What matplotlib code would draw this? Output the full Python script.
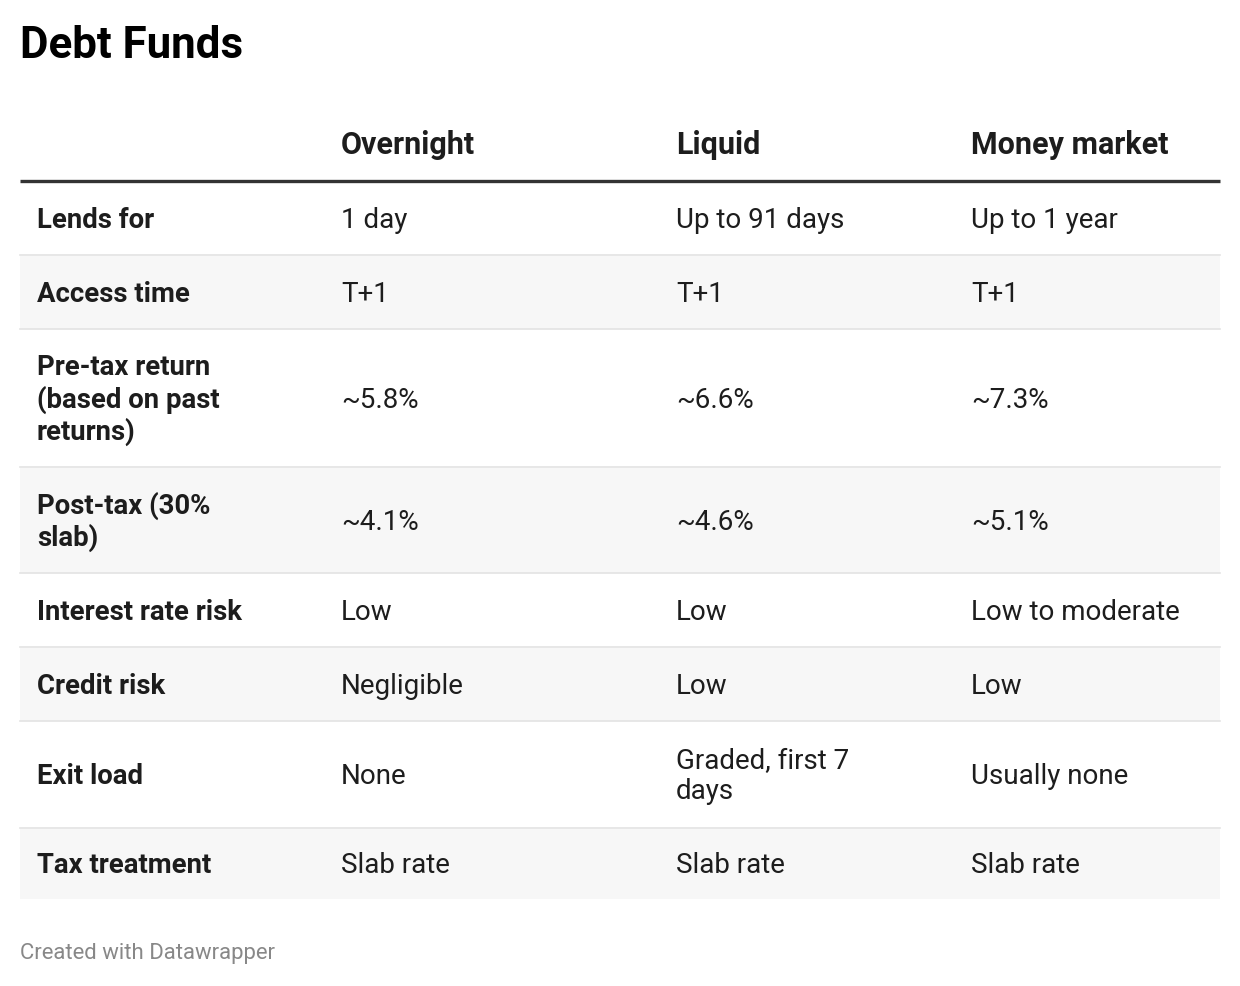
import matplotlib
matplotlib.use("Agg")
import matplotlib.pyplot as plt
from matplotlib.patches import Rectangle

plt.rcParams['font.family'] = ['Roboto', 'DejaVu Sans']

title = "Debt Funds"
columns = ["Overnight", "Liquid", "Money market"]
row_labels = ["Lends for", "Access time", "Pre-tax return\n(based on past\nreturns)",
              "Post-tax (30%\nslab)", "Interest rate risk", "Credit risk",
              "Exit load", "Tax treatment"]
overnight = ["1 day", "T+1", "~5.8%", "~4.1%", "Low", "Negligible", "None", "Slab rate"]
liquid = ["Up to 91 days", "T+1", "~6.6%", "~4.6%", "Low", "Low", "Graded, first 7\ndays", "Slab rate"]
money_market = ["Up to 1 year", "T+1", "~7.3%", "~5.1%", "Low to moderate", "Low", "Usually none", "Slab rate"]
footer = "Created with Datawrapper"

# layout (pixels)
W, H = 1240, 986
row_edges = [181, 255, 329, 467, 573, 647, 721, 828, 899]
col_x = [37, 341, 676, 971]
table_left, table_right = 20, 1220

fig = plt.figure(figsize=(W / 100, H / 100), dpi=100)
ax = fig.add_axes([0, 0, 1, 1])
ax.set_xlim(0, W)
ax.set_ylim(H, 0)
ax.axis('off')

text_color = "#1d1d1d"
fs_body = 20.0
fs_label = 19.8
fs_head = 22.0

ax.text(20, 46, title, fontsize=31.6, fontweight='bold', color="#000000", va='center', ha='left')

for x, c in zip(col_x[1:], columns):
    ax.text(x, 145, c, fontsize=fs_head, fontweight='bold', color=text_color, va='center', ha='left')

ax.plot([table_left, table_right], [180.5, 180.5], color="#333333", lw=2.4, solid_capstyle='butt')

cols = [overnight, liquid, money_market]
for i, lab in enumerate(row_labels):
    top, bot = row_edges[i], row_edges[i + 1]
    if i % 2 == 1:
        ax.add_patch(Rectangle((table_left, top + 1), table_right - table_left, bot - top - 1,
                               facecolor="#f7f7f7", edgecolor='none', zorder=0))
    if i < len(row_labels) - 1:
        ax.plot([table_left, table_right], [bot, bot], color="#e3e3e3", lw=1.2, zorder=1)
    yc = (top + bot) / 2 + 2
    ax.text(col_x[0], yc, lab, fontsize=fs_label, fontweight='bold', color=text_color,
            va='center', ha='left', linespacing=1.18)
    for x, col in zip(col_x[1:], cols):
        ax.text(x, yc, col[i], fontsize=fs_body, color=text_color, va='center', ha='left',
                linespacing=1.18)

ax.text(20, 953, footer, fontsize=15.9, color="#888888", va='center', ha='left')

fig.savefig("out.png", dpi=100)
